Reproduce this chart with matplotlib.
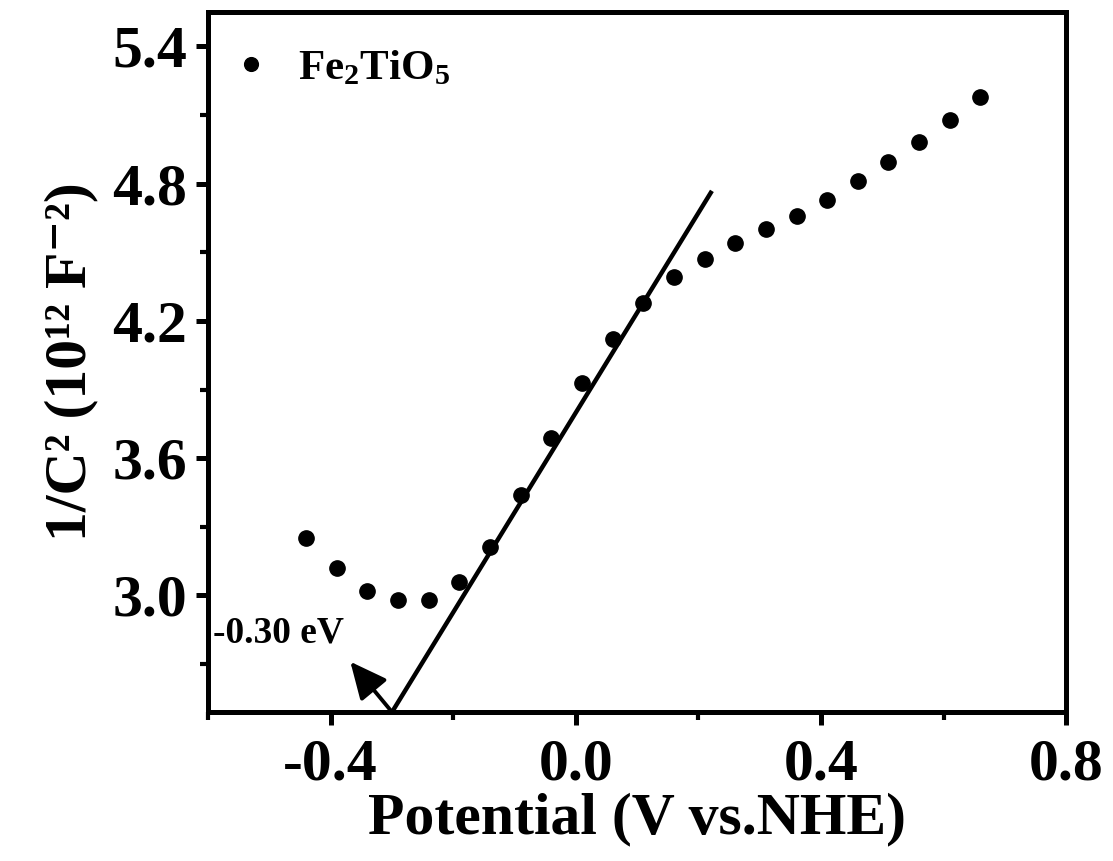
import matplotlib
matplotlib.use("Agg")
import matplotlib.pyplot as plt
from matplotlib.ticker import MultipleLocator

plt.rcParams['font.family'] = ['Liberation Serif', 'DejaVu Serif']
plt.rcParams['font.weight'] = 'bold'
plt.rcParams['mathtext.fontset'] = 'custom'
plt.rcParams['mathtext.rm'] = 'Liberation Serif:bold'
plt.rcParams['mathtext.it'] = 'Liberation Serif:bold'
plt.rcParams['mathtext.bf'] = 'Liberation Serif:bold'

potential = [-0.44, -0.39, -0.34, -0.29, -0.24, -0.19, -0.14, -0.09, -0.04, 0.01,
             0.06, 0.11, 0.16, 0.21, 0.26, 0.31, 0.36, 0.41, 0.46, 0.51,
             0.56, 0.61, 0.66]
inv_c2 = [3.25, 3.12, 3.02, 2.98, 2.98, 3.06, 3.21, 3.44, 3.69, 3.93,
          4.12, 4.28, 4.39, 4.47, 4.54, 4.60, 4.66, 4.73, 4.81, 4.895,
          4.98, 5.08, 5.18]
fit_x = [-0.30, 0.22]
fit_y = [2.49, 4.76]
flatband = -0.30

fig = plt.figure(figsize=(11.13, 8.61), dpi=100)
ax = fig.add_axes([0.187, 0.173, 0.771, 0.813])

ax.plot(potential, inv_c2, 'o', color='black', markersize=11, label='Fe$_2$TiO$_5$')
ax.plot(fit_x, fit_y, '-', color='black', linewidth=3.2)

ax.annotate('', xy=(-0.368, 2.71), xytext=(flatband, 2.49),
            arrowprops=dict(arrowstyle='-|>,head_length=0.75,head_width=0.35',
                            mutation_scale=30, color='black', lw=2.8,
                            shrinkA=0, shrinkB=0))
ax.text(-0.592, 2.835, '-0.30 eV', fontsize=27, fontweight='bold', va='center', ha='left')

ax.set_xlim(-0.6, 0.8)
ax.set_ylim(2.49, 5.55)
ax.xaxis.set_minor_locator(MultipleLocator(0.2))
ax.yaxis.set_minor_locator(MultipleLocator(0.3))
ax.set_xticks([-0.4, 0.0, 0.4, 0.8])
ax.set_xticklabels(['-0.4', '0.0', '0.4', '0.8'])
ax.set_yticks([3.0, 3.6, 4.2, 4.8, 5.4])
ax.set_yticklabels(['3.0', '3.6', '4.2', '4.8', '5.4'])

for s in ax.spines.values():
    s.set_linewidth(3.6)
ax.tick_params(which='major', direction='out', length=9, width=3.6, labelsize=43)
ax.tick_params(axis='x', which='major', pad=10)
ax.tick_params(axis='y', which='major', pad=6)
ax.tick_params(which='minor', direction='out', length=6, width=3.0)
for lab in ax.get_xticklabels() + ax.get_yticklabels():
    lab.set_fontweight('bold')

ax.set_xlabel('Potential (V vs.NHE)', fontsize=43, fontweight='bold', labelpad=0)
ax.set_ylabel('1/C\u00b2 (10\u00b9\u00b2 F\u207b\u00b2)', fontsize=43, fontweight='bold', labelpad=10)

leg = ax.legend(loc='upper left', bbox_to_anchor=(0.0093, 0.966), frameon=False,
                fontsize=31, handletextpad=0.6, handlelength=1.0,
                borderaxespad=0.0, borderpad=0.3, markerscale=0.9)

fig.savefig('out.png', dpi=100, facecolor='white')
